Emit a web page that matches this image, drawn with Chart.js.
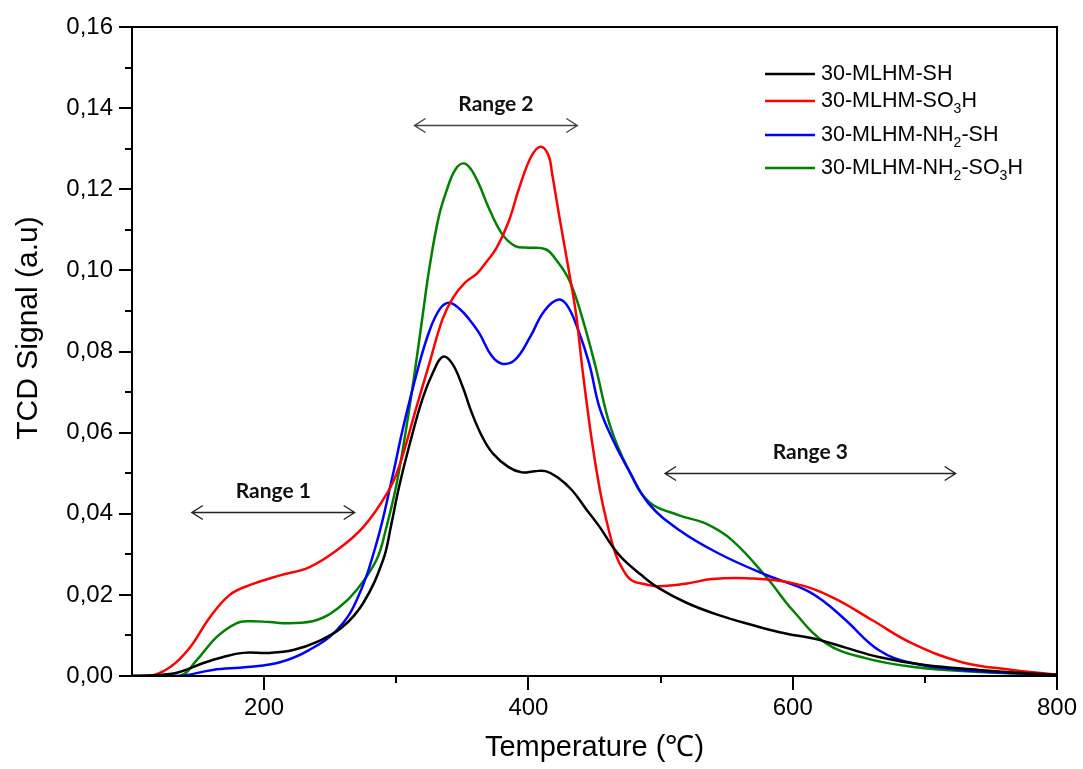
<!DOCTYPE html>
<html><head><meta charset="utf-8">
<script src="https://cdn.jsdelivr.net/npm/chart.js@4.4.1/dist/chart.umd.min.js"></script>
<style>html,body{margin:0;padding:0;background:#fff}#wrap{width:1083px;height:769px;position:relative}</style>
</head><body><div id="wrap"><canvas id="c"></canvas></div>
<script>
// ---- data ----
const seriesNames = ['30-MLHM-SH', '30-MLHM-SO_3H', '30-MLHM-NH_2-SH', '30-MLHM-NH_2-SO_3H'];
const seriesColors = ['#000000', '#ff0000', '#0000ff', '#008000'];

const shT = [100,123,136,154,169,184,204,222,240,259,275,290,296,302,310,320,328,335,342,350,357,365,373,385,395,405,413,422,433,444,454,463,471,485,499,520,544,570,590,620,640,665,700,741,770,800];
const shV = [0,0.0003,0.001,0.0032,0.0047,0.0057,0.0057,0.0064,0.0084,0.012,0.018,0.0286,0.037,0.0465,0.057,0.0685,0.075,0.0787,0.0772,0.0715,0.065,0.059,0.0549,0.0515,0.0502,0.0505,0.0505,0.049,0.0458,0.041,0.0367,0.0322,0.029,0.025,0.0216,0.018,0.015,0.0125,0.0108,0.0089,0.007,0.0047,0.0027,0.0015,0.0008,0.0003];

const so3T = [100,114,129,144,159,174,189,212,234,255,275,293,302,315,325,335,343,352,361,368,376,385,393,402,409,415,418,423,430,436,441,448,454,459,466,472,478,490,499,520,539,565,600,630,660,690,728,766,800];
const so3V = [0,0,0.0022,0.0071,0.0145,0.020,0.0224,0.0248,0.0268,0.031,0.0367,0.045,0.0515,0.066,0.077,0.088,0.0933,0.097,0.0992,0.102,0.1056,0.112,0.1203,0.128,0.1305,0.1285,0.1237,0.114,0.101,0.0893,0.0753,0.058,0.046,0.0384,0.030,0.026,0.0236,0.0225,0.0221,0.0228,0.0239,0.0241,0.0229,0.0194,0.0138,0.0081,0.0034,0.0015,0.0003];

const nhshT = [100,136,161,187,212,234,255,270,285,297,305,316,325,333,340,348,355,363,372,380,390,401,412,423,430,438,446,454,465,476,491,514,544,580,610,625,640,665,690,728,770,800];
const nhshV = [0,0,0.0015,0.0022,0.0034,0.0064,0.0113,0.0187,0.0327,0.049,0.061,0.0753,0.085,0.0905,0.092,0.0905,0.088,0.0844,0.079,0.077,0.078,0.0834,0.090,0.0928,0.091,0.085,0.077,0.066,0.0575,0.0507,0.0425,0.036,0.0302,0.0249,0.0212,0.018,0.0138,0.0064,0.0032,0.0015,0.0007,0.0003];

const nhso3T = [100,136,149,164,179,189,204,219,240,257,270,285,292,300,307,314,320,325,332,338,345,352,360,370,380,390,400,413,420,431,441,451,462,476,491,514,534,554,580,600,625,655,690,741,800];
const nhso3V = [0,0,0.0039,0.0096,0.013,0.0135,0.0133,0.013,0.0138,0.017,0.0212,0.0286,0.036,0.047,0.060,0.075,0.089,0.1005,0.113,0.1196,0.125,0.1263,0.123,0.1154,0.109,0.106,0.1056,0.1052,0.103,0.0975,0.088,0.076,0.0615,0.0507,0.043,0.0396,0.0376,0.0335,0.0244,0.0162,0.0081,0.0044,0.0023,0.001,0.0003];

const xTickValues = [200, 400, 600, 800];
const xMinorTicks = [300, 500, 700];
const yTickValues = [0, 0.02, 0.04, 0.06, 0.08, 0.10, 0.12, 0.14, 0.16];
const yMinorTicks = [0.01, 0.03, 0.05, 0.07, 0.09, 0.11, 0.13, 0.15];

const xTitle = 'Temperature (\u2103)';
const yTitle = 'TCD Signal (a.u)';

const rangeLabels = ['Range 1', 'Range 2', 'Range 3'];
const rangeFrom = [145.3, 313.8, 503.4];
const rangeTo = [268.5, 437.0, 723.3];
const rangeLevel = [0.0404, 0.1359, 0.0500];

// ---- chart ----
const seriesT = [shT, so3T, nhshT, nhso3T];
const seriesV = [shV, so3V, nhshV, nhso3V];
const FONT = '"Liberation Sans", Arial, sans-serif';

const datasets = seriesNames.map((n, i) => ({
  label: n.replace(/_(\d)/g, '$1'),
  data: seriesT[i].map((t, k) => ({x: t, y: seriesV[i][k]})),
  borderColor: seriesColors[i],
  backgroundColor: seriesColors[i],
  borderWidth: 2.5,
  pointRadius: 0,
  tension: 0.4,
  fill: false
}));

function drawSubText(ctx, str, x, y, size, subSize) {
  const parts = str.split(/(_\d)/);
  let cx = x;
  parts.forEach(p => {
    if (!p) return;
    if (p.startsWith('_')) {
      ctx.font = subSize + 'px ' + FONT;
      ctx.fillText(p.slice(1), cx, y + size * 0.38);
      cx += ctx.measureText(p.slice(1)).width;
    } else {
      ctx.font = size + 'px ' + FONT;
      ctx.fillText(p, cx, y);
      cx += ctx.measureText(p).width;
    }
  });
}

const extras = {
  id: 'extras',
  afterDraw(chart, args, opts) {
    const {ctx, chartArea: a, scales: {x, y}} = chart;
    ctx.save();
    ctx.strokeStyle = '#000';
    ctx.lineWidth = 2;
    ctx.strokeRect(a.left, a.top, a.right - a.left, a.bottom - a.top);
    ctx.beginPath();
    xMinorTicks.forEach(v => { const p = Math.round(x.getPixelForValue(v)); ctx.moveTo(p, a.bottom); ctx.lineTo(p, a.bottom + 7); });
    yMinorTicks.forEach(v => { const p = Math.round(y.getPixelForValue(v)); ctx.moveTo(a.left, p); ctx.lineTo(a.left - 7, p); });
    ctx.stroke();

    // y axis title
    ctx.save();
    ctx.translate(opts.yTitle.x, opts.yTitle.y);
    ctx.rotate(-Math.PI / 2);
    ctx.fillStyle = '#000';
    ctx.font = '30px ' + FONT;
    ctx.textAlign = 'center';
    ctx.textBaseline = 'middle';
    ctx.fillText(yTitle, 0, 0);
    ctx.restore();

    // range annotations
    rangeLabels.forEach((lab, i) => {
      const x1 = x.getPixelForValue(rangeFrom[i]);
      const x2 = x.getPixelForValue(rangeTo[i]);
      const yy = Math.round(y.getPixelForValue(rangeLevel[i])) + 0.5;
      ctx.strokeStyle = i === 1 ? '#444' : '#222';
      ctx.lineWidth = 1.4;
      ctx.beginPath();
      ctx.moveTo(x1, yy); ctx.lineTo(x2, yy);
      ctx.moveTo(x1 + 11, yy - 7); ctx.lineTo(x1, yy); ctx.lineTo(x1 + 11, yy + 7);
      ctx.moveTo(x2 - 11, yy - 7); ctx.lineTo(x2, yy); ctx.lineTo(x2 - 11, yy + 7);
      ctx.stroke();
      ctx.fillStyle = '#111';
      ctx.font = 'bold 21px Lato, "Open Sans", sans-serif';
      ctx.textAlign = 'center';
      ctx.textBaseline = 'middle';
      ctx.fillText(lab, (x1 + x2) / 2, yy - 21);
    });

    // legend
    const L = opts.legend;
    ctx.textAlign = 'left';
    ctx.textBaseline = 'middle';
    seriesNames.forEach((n, i) => {
      const ry = L.rows[i];
      ctx.strokeStyle = seriesColors[i];
      ctx.lineWidth = 2.5;
      ctx.beginPath();
      ctx.moveTo(L.x, ry); ctx.lineTo(L.x + L.len, ry);
      ctx.stroke();
      ctx.fillStyle = '#000';
      drawSubText(ctx, n, L.x + L.len + 6, ry, 21.5, 14);
    });
    ctx.restore();
  }
};

new Chart(document.getElementById('c'), {
  type: 'line',
  data: {datasets},
  plugins: [extras],
  options: {
    responsive: true,
    maintainAspectRatio: false,
    animation: false,
    layout: {padding: {top: 27, right: 26, left: 0, bottom: 0}},
    plugins: {
      legend: {display: false},
      tooltip: {enabled: false},
      extras: {legend: {x: 765, len: 50, rows: [74, 101, 135, 168]}, yTitle: {x: 29, y: 328}}
    },
    scales: {
      x: {
        type: 'linear', min: 100, max: 800,
        afterBuildTicks: s => { s.ticks = xTickValues.map(v => ({value: v})); },
        afterFit: s => { s.height = 93; },
        grid: {display: true, drawOnChartArea: false, drawTicks: true, tickLength: 14, color: '#000', lineWidth: 2},
        border: {display: true, color: '#000', width: 2},
        ticks: {color: '#000', font: {family: FONT, size: 24}, padding: 4, maxRotation: 0},
        title: {display: true, text: xTitle, color: '#000', font: {family: FONT, size: 29}, padding: {top: 0, bottom: 4}}
      },
      y: {
        type: 'linear', min: 0, max: 0.16,
        afterBuildTicks: s => { s.ticks = yTickValues.map(v => ({value: v})); },
        afterFit: s => { s.width = 132; },
        grid: {display: true, drawOnChartArea: false, drawTicks: true, tickLength: 13, color: '#000', lineWidth: 2},
        border: {display: true, color: '#000', width: 2},
        ticks: {color: '#000', font: {family: FONT, size: 24}, padding: 6,
          callback: v => v.toFixed(2).replace('.', ',')},
        title: {display: false}
      }
    }
  }
});
</script>
</body></html>
